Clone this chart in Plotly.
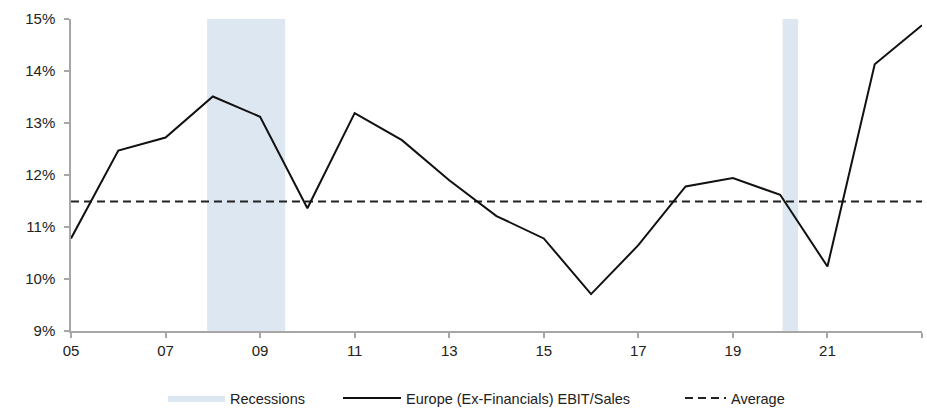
import plotly.graph_objects as go

years = list(range(2005, 2024))
ebit_sales = [10.78, 12.47, 12.72, 13.51, 13.12, 11.36, 13.19, 12.67, 11.90, 11.21,
              10.78, 9.71, 10.65, 11.78, 11.94, 11.62, 10.24, 14.13, 14.88]
average_value = 11.49
recession_start = [2007.88, 2020.05]
recession_end = [2009.53, 2020.38]
x_tick_vals = [2005, 2007, 2009, 2011, 2013, 2015, 2017, 2019, 2021, 2023]
x_tick_text = ["05", "07", "09", "11", "13", "15", "17", "19", "21", ""]
y_tick_vals = [9, 10, 11, 12, 13, 14, 15]
y_tick_text = ["9%", "10%", "11%", "12%", "13%", "14%", "15%"]

FONT = "Liberation Sans, Arial, sans-serif"
REC_COLOR = "#dce7f1"
AX_COLOR = "#a6a6a6"

fig = go.Figure()

# Recession shading as filled rectangles
rx, ry = [], []
for s, e in zip(recession_start, recession_end):
    rx += [s, e, e, s, s, None]
    ry += [9, 9, 15, 15, 9, None]
fig.add_trace(go.Scatter(
    x=rx, y=ry, fill="toself", fillcolor=REC_COLOR, mode="lines",
    line=dict(width=0, color=REC_COLOR), showlegend=True,
    name="Recessions", legend="legend", hoverinfo="skip"))

fig.add_trace(go.Scatter(
    x=[years[0], years[-1]], y=[average_value, average_value], mode="lines",
    line=dict(color="#222222", width=2, dash="8px,5px"), showlegend=True,
    name="Average", legend="legend3"))

fig.add_trace(go.Scatter(
    x=years, y=ebit_sales, mode="lines",
    line=dict(color="#111111", width=2), showlegend=True,
    name="Europe (Ex-Financials) EBIT/Sales", legend="legend2"))

legend_common = dict(orientation="h", yanchor="middle", yref="container", y=12 / 410,
                     xref="container", xanchor="left",
                     bgcolor="rgba(0,0,0,0)", font=dict(family=FONT, size=14.5, color="#222222"))

fig.update_layout(
    width=927, height=410,
    showlegend=True,
    margin=dict(l=71, r=5, t=19, b=79, autoexpand=False),
    plot_bgcolor="white", paper_bgcolor="white",
    font=dict(family=FONT, size=14, color="#222222"),
    legend=dict(**legend_common, x=163 / 927, itemwidth=57),
    legend2=dict(**legend_common, x=338 / 927, itemwidth=58),
    legend3=dict(**legend_common, x=680 / 927, itemwidth=41),
    xaxis=dict(range=[2005, 2023], tickvals=x_tick_vals, ticktext=x_tick_text,
               showgrid=False, zeroline=False, showline=True, linecolor=AX_COLOR, linewidth=1.5,
               ticks="outside", ticklen=5, tickcolor=AX_COLOR, tickwidth=1.5, automargin=False,
               tickfont=dict(family=FONT, size=15, color="#222222")),
    yaxis=dict(range=[9, 15], tickvals=y_tick_vals, ticktext=y_tick_text,
               showgrid=False, zeroline=False, showline=True, linecolor=AX_COLOR, linewidth=1.5,
               ticks="outside", ticklen=5, tickcolor=AX_COLOR, tickwidth=1.5, automargin=False,
               ticklabelstandoff=6,
               tickfont=dict(family=FONT, size=15, color="#222222")),
)

fig.write_html("out.html", config={"displayModeBar": False},
               post_script="document.body.style.margin='0';document.body.style.padding='0';")
